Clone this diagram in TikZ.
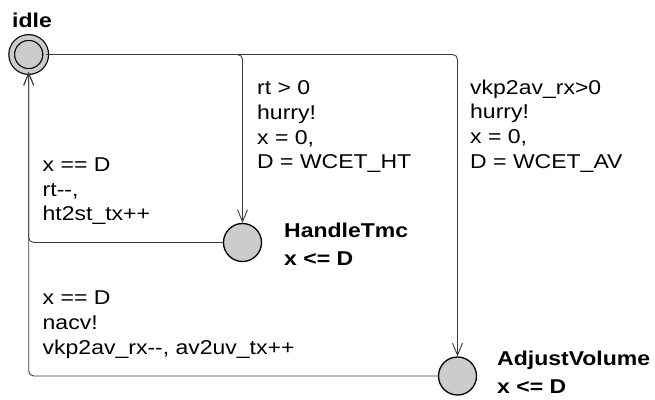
\documentclass[tikz,border=0pt]{standalone}
\usepackage{fontspec}
\setmainfont{Liberation Sans}[FakeStretch=1.15]
\usepackage{tikz}
\usepackage{xcolor}
\usetikzlibrary{arrows.meta,positioning}
\definecolor{loc}{HTML}{CCCCCC}
\definecolor{wire}{HTML}{3A3A3A}
\tikzset{
  location/.style={circle, draw=black, fill=loc, line width=1.3pt,
                   minimum size=38pt, inner sep=0pt},
  initloc/.style={location, minimum size=34pt, line width=1.2pt,
                  double=loc, double distance=4.5pt},
  edge/.style={-{Straight Barb[length=12pt,width=10pt]}, line width=0.9pt,
               draw=wire, rounded corners=5pt},
  guard/.style={anchor=north west, align=left, inner sep=0pt,
                font=\fontsize{20}{24.8}\selectfont},
  locname/.style={anchor=north west, align=left, inner sep=0pt,
                  font=\fontsize{20}{28}\selectfont\bfseries}
}
\begin{document}
\begin{tikzpicture}[x=1pt,y=1pt,>=Latex]
  \useasboundingbox (0,0) rectangle (655,-399);
  % locations
  \node[initloc] (idle) at (28.7,-54.5) {};
  \node[location] (handle) at (242.5,-242.5) {};
  \node[location] (adjust) at (457.5,-376) {};
  \node[locname] (idlename) at (12,-12.7) {idle};
  \node[locname] (handlename) at (284,-222.7) {HandleTmc\\x <= D};
  \node[locname] (adjustname) at (497,-350.7) {AdjustVolume\\x <= D};
  % edges
  \draw[edge] (idle.east) -| (handle.north);
  \draw[edge] (idle.east) -| (adjust.north);
  \draw[edge] (handle.west) -| (idle.south);
  \draw[edge] (adjust.west) -| (idle.south);
  % labels
  \node[guard] (htguard) at (257,-80.4) {rt > 0\\hurry!\\x = 0,\\D = WCET\_HT};
  \node[guard] (avguard) at (470,-79.4) {vkp2av\_rx>0\\hurry!\\x = 0,\\D = WCET\_AV};
  \node[guard] (htback) at (42.5,-157.4) {x == D\\rt-{}-,\\ht2st\_tx++};
  \node[guard] (avback) at (42.5,-290.6) {x == D\\nacv!\\vkp2av\_rx-{}-, av2uv\_tx++};
\end{tikzpicture}
\end{document}
